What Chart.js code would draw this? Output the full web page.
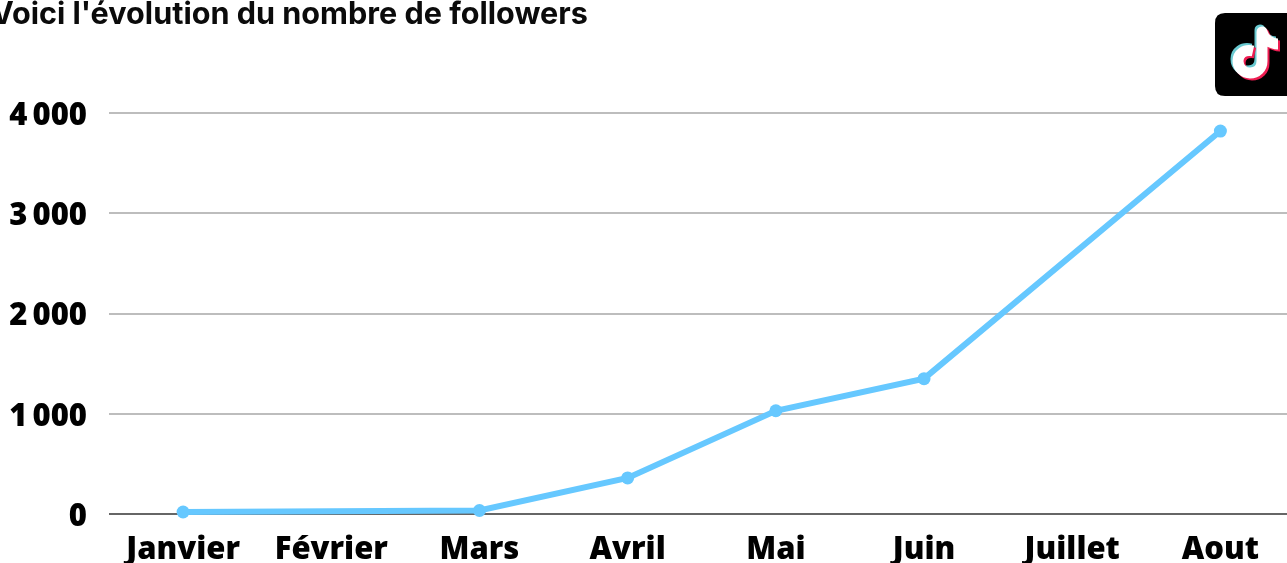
<!DOCTYPE html>
<html><head><meta charset="utf-8">
<script src="https://cdn.jsdelivr.net/npm/chart.js@4"></script>
<style>
html,body{margin:0;padding:0;background:#fff;width:1287px;height:563px;overflow:hidden}
#wrap{position:absolute;left:0;top:0;width:1301px;height:563px}
#title{position:absolute;left:-9px;top:-6px;font:700 30.6px Inter,sans-serif;color:#0b0b0b;white-space:nowrap}
#logo{position:absolute;left:1215px;top:13px}
</style></head><body>
<div id="wrap"><canvas id="c" width="1301" height="563"></canvas></div>
<div id="title">Voici l'évolution du nombre de followers</div>
<svg id="logo" width="72" height="83" viewBox="0 0 72 83">
<path d="M10 0H72V83H10Q0 83 0 73V10Q0 0 10 0Z" fill="#000"/>
<g fill="none" stroke-linejoin="round">
<path d="M38 38C29 36 23 41 23 48C23 55 29 60 35 60C42 60 47 55 47 48V19C49 26 56 31 63 31" stroke="#69c9d0" stroke-width="11" transform="translate(-2,-2)"/>
<path d="M38 38C29 36 23 41 23 48C23 55 29 60 35 60C42 60 47 55 47 48V19C49 26 56 31 63 31" stroke="#ee1d52" stroke-width="11" transform="translate(2,2)"/>
<path d="M38 38C29 36 23 41 23 48C23 55 29 60 35 60C42 60 47 55 47 48V19C49 26 56 31 63 31" stroke="#fff" stroke-width="11"/>
</g></svg>
<script>
const categories=['Janvier','Février','Mars','Avril','Mai','Juin','Juillet','Aout'];
const followers=[20,null,35,360,1030,1350,null,3820];
const yTicks=[0,1000,2000,3000,4000];
const yLabels=['0','1\u2009000','2\u2009000','3\u2009000','4\u2009000'];
const shiftLabels={id:'shiftLabels',beforeDraw(ch){
  for(const it of ch.scales.y.getLabelItems()){it.options.translation=[it.options.translation[0],it.options.translation[1]+3];}
}};
new Chart(document.getElementById('c'),{
 type:'line',
 data:{labels:categories,datasets:[{data:followers,borderColor:'#66c8ff',backgroundColor:'#66c8ff',borderWidth:6,pointRadius:6.5,pointHoverRadius:6.5,pointBorderWidth:0,tension:0,spanGaps:true,clip:false}]},
 plugins:[shiftLabels],
 options:{responsive:false,animation:false,
  layout:{padding:{top:113,right:1,left:0,bottom:0}},
  plugins:{legend:{display:false},title:{display:false},tooltip:{enabled:false}},
  scales:{
   x:{offset:true,grid:{display:false},border:{display:false},
      afterFit(s){s.height=49},
      ticks:{color:'#000',font:{family:'"Open Sans"',size:31,weight:800},padding:10,maxRotation:0,autoSkip:false}},
   y:{min:0,max:4000,
      afterFit(s){s.width=109},
      afterBuildTicks(s){s.ticks=yTicks.map(v=>({value:v}))},
      border:{display:false},
      grid:{drawTicks:false,lineWidth:2,color:c=>c.tick&&c.tick.value===0?'#666666':'#bdbdbd'},
      ticks:{color:'#000',padding:22,font:{family:'"Open Sans"',size:31,weight:800},
        callback:v=>yLabels[yTicks.indexOf(v)]}}
  }}
});
</script></body></html>
